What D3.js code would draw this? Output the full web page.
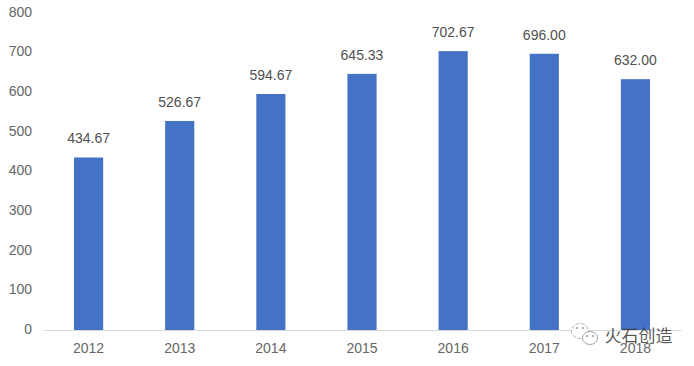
<!DOCTYPE html>
<html>
<head>
<meta charset="utf-8">
<script src="https://cdn.jsdelivr.net/npm/d3@7"></script>
<style>
    html, body { margin: 0; padding: 0; background: #fff; }
    svg { display: block; }
</style>
</head>
<body>
<div id="chart"></div>
<script>
const years = ['2012', '2013', '2014', '2015', '2016', '2017', '2018'];
const values = [434.67, 526.67, 594.67, 645.33, 702.67, 696.00, 632.00];
const yTicks = [0, 100, 200, 300, 400, 500, 600, 700, 800];

const width = 694;
const height = 366;
const margin = { top: 12.5, right: 13, bottom: 36, left: 43 };
const textColor = '#666666';
const font = '"Liberation Sans", Arial, sans-serif';

const svg = d3.select('#chart').append('svg')
    .attr('width', width)
    .attr('height', height);

const x = d3.scaleBand()
    .domain(years)
    .range([margin.left, width - margin.right])
    .paddingInner(0.68)
    .paddingOuter(0.34);

const y = d3.scaleLinear()
    .domain([0, 800])
    .range([height - margin.bottom, margin.top]);

// Bars
svg.selectAll('.bar')
    .data(values)
    .enter()
    .append('rect')
    .attr('class', 'bar')
    .attr('x', (d, i) => x(years[i]))
    .attr('width', x.bandwidth())
    .attr('y', d => y(d))
    .attr('height', d => y(0) - y(d))
    .attr('fill', '#4472c4');

// Value labels
svg.selectAll('.value-label')
    .data(values)
    .enter()
    .append('text')
    .attr('class', 'value-label')
    .attr('x', (d, i) => x(years[i]) + x.bandwidth() / 2)
    .attr('y', d => y(d) - 14)
    .attr('text-anchor', 'middle')
    .attr('font-family', font)
    .attr('font-size', '14px')
    .attr('fill', '#505050')
    .text(d => d.toFixed(2));

// Axes
const xAxis = svg.append('g')
    .attr('transform', `translate(0,${y(0)})`)
    .call(d3.axisBottom(x).tickSize(0).tickPadding(13));
xAxis.select('.domain').attr('stroke', '#d9d9d9').attr('stroke-width', 1);
xAxis.selectAll('text')
    .attr('font-family', font)
    .attr('font-size', '14px')
    .attr('fill', textColor);

const yAxis = svg.append('g')
    .attr('transform', `translate(${margin.left},0)`)
    .call(d3.axisLeft(y).tickValues(yTicks).tickSize(0).tickPadding(11));
yAxis.select('.domain').remove();
yAxis.selectAll('text')
    .attr('dy', '0.26em')
    .attr('font-family', font)
    .attr('font-size', '14px')
    .attr('fill', textColor);

// Watermark
const mark = svg.append('g').attr('transform', 'translate(571,322)');
mark.append('ellipse')
    .attr('cx', 9).attr('cy', 9).attr('rx', 8.5).attr('ry', 7.5)
    .attr('fill', 'rgba(255,255,255,0.85)')
    .attr('stroke', '#9a9a9a').attr('stroke-width', 0.8)
    .attr('stroke-dasharray', '4 1.5');
mark.append('ellipse')
    .attr('cx', 19).attr('cy', 16).attr('rx', 7.5).attr('ry', 6.5)
    .attr('fill', '#fff')
    .attr('stroke', '#8c8c8c').attr('stroke-width', 0.8);
mark.selectAll('.eye')
    .data([[6, 6], [12, 6], [16, 14], [22, 14]])
    .enter()
    .append('circle')
    .attr('class', 'eye')
    .attr('cx', d => d[0])
    .attr('cy', d => d[1])
    .attr('r', 0.9)
    .attr('fill', '#8c8c8c');
mark.append('text')
    .attr('x', 33.5)
    .attr('y', 20)
    .attr('font-family', '"Noto Sans CJK SC", sans-serif')
    .attr('font-size', '17px')
    .attr('fill', '#3a3a3a')
    .attr('fill-opacity', 0.85)
    .text('火石创造');
</script>
</body>
</html>
